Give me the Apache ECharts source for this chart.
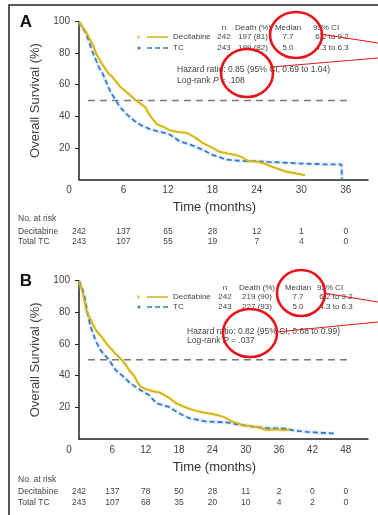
<!DOCTYPE html>
<html><head><meta charset="utf-8">
<script src="https://cdn.jsdelivr.net/npm/echarts@6/dist/echarts.min.js"></script>
<style>html,body{margin:0;padding:0;background:#fff}#c{width:378px;height:515px}</style>
</head><body><div id="c"></div>
<script>
const FONT = '"Liberation Sans", Arial, sans-serif';
// ---- data ----
const riskTimesA = [0,6,12,18,24,30,36];
const riskTimesB = [0,6,12,18,24,30,36,42,48];
const riskDecA = [242,137,65,28,12,1,0];
const riskTcA  = [243,107,55,19,7,4,0];
const riskDecB = [242,137,78,50,28,11,2,0,0];
const riskTcB  = [243,107,68,35,20,10,4,2,0];
const tableHeader = ['n','Death (%)','Median','95% CI'];
const tableA = [['Decitabine','242','197 (81)','7.7','6.2 to 9.2'],['TC','243','199 (82)','5.0','4.3 to 6.3']];
const tableB = [['Decitabine','242','219 (90)','7.7','6.2 to 9.2'],['TC','243','227 (93)','5.0','4.3 to 6.3']];
const hazardA = ['Hazard ratio: 0.85 (95% CI, 0.69 to 1.04)', '.108'];
const hazardB = ['Hazard ratio: 0.82 (95% CI, 0.68 to 0.99)', '.037'];
const medianA = [[1.2,50],[36.3,50]];
const medianB = [[1.6,50],[48.6,50]];
const decA = [[0,100],[1,93],[2,84],[2.3,80],[3,74],[4,67],[4.5,65],[5.5,59],[6.5,55],[7.7,50],[8.9,46],[9.5,41],[10.5,35],[11.5,33],[12.3,31],[13.5,30],[14.5,29.5],[15.5,27],[16.7,23],[18,20],[18.9,17.5],[20,16.5],[21.2,15.4],[22,14],[22.9,11.5],[24.3,11],[25,10],[26,8],[27,6.5],[27.8,5],[29,4],[29.6,3.4],[30.5,2.5]];
const tcA = [[0,100],[1,92],[1.9,80],[2.7,71],[3.2,67],[4.3,55],[5,50],[5.5,46],[6.5,41],[7.5,37],[8.3,34.5],[9.5,32],[10.9,30],[12,29],[12.7,27],[13.6,24],[15,22],[16.3,19.5],[17,18],[18,15.5],[19,14],[19.8,12.5],[21,12],[22.5,11.5],[24,11.5],[25.5,11],[28,10.5],[30,10],[33,9.5],[35.4,9.5],[35.5,0]];
const decB = [[0,100],[0.7,92],[1.25,82],[2,76],[2.4,73],[3.2,68],[4.2,64],[5,60],[5.8,57],[6.5,54],[7.7,50],[8.5,46.5],[9,43.5],[9.9,40],[10.5,36],[11.1,33],[12,31.5],[13.5,30],[14.6,29.3],[15.5,27.5],[16.4,25.6],[17.3,23],[18.2,21.4],[19.5,19.5],[20.6,18.2],[22,17],[23.6,16],[25,15],[26,14],[27,12],[27.7,10.8],[28.5,10],[29.5,8.7],[31,8],[31.9,7.6],[33,6.5],[33.7,5.7],[35,6],[36,6],[37,5.5],[37.9,6]];
const tcB = [[0,100],[0.5,96],[1,90],[1.5,80],[2,72],[2.5,67],[3,62],[3.9,56],[4.6,53],[5.4,50],[6.6,43.5],[7.8,40],[9,36],[10.5,32],[11.5,30],[12.5,28],[13.3,25],[14,22.5],[15,21.5],[16.4,20],[17.2,18],[18.2,16],[19,14.5],[20,13],[21.5,12],[23,11],[26.5,10.5],[28,9.5],[30,8.5],[32,7.5],[33.7,7],[37.2,6.5],[38.5,5.5],[39.6,5],[41,4.5],[43.2,4],[45.9,3.5]];

const YEL = '#d2b214', BLU = '#3a78c8', TXT = '#444';
const chart = echarts.init(document.getElementById('c'), null, {renderer:'canvas'});

function xAxis(gi, max){
  return {type:'value', gridIndex:gi, min:0, max:max, interval:6,
    name:'Time (months)', nameLocation:'middle', nameGap:22,
    nameTextStyle:{fontFamily:FONT,fontSize:13,color:'#333',padding:[0,18,0,0],verticalAlign:'top'},
    axisLine:{show:true,onZero:false,lineStyle:{color:'#222',width:1.5}},
    axisTick:{show:false}, splitLine:{show:false},
    axisLabel:{margin:6,fontFamily:FONT,fontSize:10,color:TXT,showMaxLabel:true,
      formatter:function(v){ return v===0 ? '{z|0}' : (v%6===0 ? String(v) : ''); },
      rich:{z:{padding:[0,20,0,0],fontSize:10,color:TXT,fontFamily:FONT}}}
  };
}
function yAxis(gi){
  return {type:'value', gridIndex:gi, min:0, max:100, interval:20,
    name:'Overall Survival (%)', nameLocation:'middle', nameGap:34,
    nameTextStyle:{fontFamily:FONT,fontSize:13,color:'#444'},
    axisLine:{show:true,lineStyle:{color:'#222',width:1.5}},
    axisTick:{show:true,length:4,lineStyle:{color:'#222',width:1}},
    splitLine:{show:false},
    axisLabel:{showMinLabel:false,margin:9,fontFamily:FONT,fontSize:10,color:TXT}
  };
}
function km(data, gi, color, dashed){
  return [
    {type:'line', xAxisIndex:gi, yAxisIndex:gi, data:data, showSymbol:false, silent:true, z:1,
      lineStyle:{color: dashed ? 'rgba(150,205,245,0.28)' : 'rgba(245,225,110,0.35)', width:4}},
    {type:'line', xAxisIndex:gi, yAxisIndex:gi, data:data, showSymbol:false, silent:true, z:2,
      lineStyle:{color:color, width:1.8, type: dashed ? [5,3] : 'solid'}}
  ];
}
function medLine(data, gi){
  return {type:'line', xAxisIndex:gi, yAxisIndex:gi, data:data, showSymbol:false, silent:true, z:0,
    lineStyle:{color:'#777', width:1.5, type:[7,5]}};
}

chart.setOption({
  animation:false,
  grid:[{left:79, top:21.7, width:289, height:157.6},{left:79, top:280.7, width:289, height:158.3}],
  xAxis:[xAxis(0,39), xAxis(1,52)],
  yAxis:[yAxis(0), yAxis(1)],
  series:[medLine(medianA,0), ...km(tcA,0,BLU,true), ...km(decA,0,YEL,false),
          medLine(medianB,1), ...km(tcB,1,BLU,true), ...km(decB,1,YEL,false)]
});

const G = [];
function txt(x,y,t,opt){
  opt = opt || {};
  G.push({type:'text', x:x, y:y, z:100, silent:true, style:Object.assign({text:t, fill:opt.fill||TXT,
    font:(opt.weight||'normal')+' '+(opt.size||8)+'px '+FONT,
    align:opt.align||'center', verticalAlign:'middle', textAlign:opt.align||'center', textVerticalAlign:'middle'}, opt.extra||{})});
}
// frame
G.push({type:'rect', shape:{x:9,y:5,width:400,height:540}, z:50, silent:true, style:{fill:'none', stroke:'#222', lineWidth:1.5}});
// panel letters
txt(26,22,'A',{size:17,weight:'bold',fill:'#111'});
txt(26,281,'B',{size:17,weight:'bold',fill:'#111'});

function legendTable(rows, hy, r1, r2, cols, hx, hz1, hz2, hazard){
  const hdr = tableHeader;
  txt(cols[0],hy,hdr[0]); txt(cols[1],hy,hdr[1]); txt(cols[2],hy,hdr[2]); txt(cols[3]-6,hy,hdr[3]);
  [r1,r2].forEach(function(ry,i){
    const r = rows[i];
    txt(173,ry,r[0],{align:'left'});
    txt(cols[0],ry,r[1]); txt(cols[1],ry,r[2]); txt(cols[2],ry,r[3]); txt(cols[3],ry,r[4]);
  });
  // legend marks
  G.push({type:'rect', shape:{x:137,y:r1-1.5,width:3,height:3}, z:100, style:{fill:'#e7d36a'}});
  G.push({type:'line', shape:{x1:147,y1:r1,x2:168,y2:r1}, z:100, style:{stroke:YEL,lineWidth:1.5}});
  G.push({type:'circle', shape:{cx:139,cy:r2,r:1.5}, z:100, style:{fill:BLU}});
  G.push({type:'line', shape:{x1:147,y1:r2,x2:168,y2:r2}, z:100, style:{stroke:BLU,lineWidth:1.5,lineDash:[5,3]}});
  txt(hx,hz1,hazard[0],{align:'left',size:8.5});
  G.push({type:'text', x:hx, y:hz2, z:100, style:{text:'{a|Log-rank }{b|P}{a| = '+hazard[1]+'}', align:'left', verticalAlign:'middle', textAlign:'left', textVerticalAlign:'middle',
    rich:{a:{fontFamily:FONT,fontSize:8.5,fill:TXT,color:TXT}, b:{fontFamily:FONT,fontSize:8.5,fontStyle:'italic',fill:TXT,color:TXT}}}});
}
legendTable(tableA, 28, 37, 48, [224,253,288,332], 177, 70, 81, hazardA);
legendTable(tableB, 288, 297, 307, [225,257,298,336], 187, 332, 341, hazardB);

// risk tables
function riskTable(gi, times, dec, tc, yh, y1, y2){
  txt(18,yh,'No. at risk',{align:'left',size:8.5});
  txt(18,y1,'Decitabine',{align:'left',size:8.5});
  txt(18,y2,'Total TC',{align:'left',size:8.5});
  times.forEach(function(t,i){
    const px = chart.convertToPixel({xAxisIndex:gi}, t);
    txt(px,y1,String(dec[i]),{size:8.5});
    txt(px,y2,String(tc[i]),{size:8.5});
  });
}
riskTable(0, riskTimesA, riskDecA, riskTcA, 219, 232, 242);
riskTable(1, riskTimesB, riskDecB, riskTcB, 480, 492, 503);

// red annotation circles and lines
function ell(cx,cy,rx,ry){ G.push({type:'ellipse', shape:{cx:cx,cy:cy,rx:rx,ry:ry}, z:110, style:{fill:'none',stroke:'#e8141c',lineWidth:2.6}}); }
function rl(x1,y1,x2,y2){ G.push({type:'line', shape:{x1:x1,y1:y1,x2:x2,y2:y2}, z:110, style:{stroke:'#e8141c',lineWidth:1.2}}); }
ell(296,35,26,23); ell(247,73,26,24);
rl(320,34,378,43); rl(272,67,378,58);
ell(301,293,24,23); ell(250,333,27,24);
rl(324,293,378,302); rl(276,332,378,322);

chart.setOption({graphic:G});
</script></body></html>
